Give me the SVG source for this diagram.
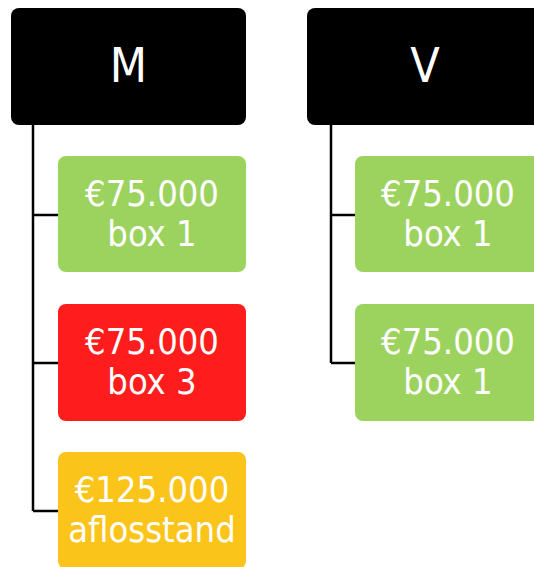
<svg xmlns="http://www.w3.org/2000/svg" width="534" height="567" viewBox="0 0 534 567">
<style>
.hdr{fill:#000}
.g{fill:#9CD35F}
.r{fill:#FE1C1C}
.y{fill:#FBC41B}
text{fill:#fff;font-family:"DejaVu Sans Condensed","DejaVu Sans",sans-serif;text-anchor:middle}
.t{font-size:36px}
.h{font-size:48px}
.c{fill:none;stroke:#000;stroke-width:2.5}
</style>
<rect width="534" height="567" fill="#fff"/>
<g id="connectors">
<path class="c" d="M33,125 V511 M33,215 H58 M33,363 H58 M33,511 H58"/>
<path class="c" d="M331,125 V363 M331,215 H355 M331,363 H355"/>
</g>
<g id="M"><rect class="hdr" x="11" y="8" width="235" height="117" rx="8"/><text class="h" x="128.5" y="82">M</text></g>
<g id="M1"><rect class="g" x="58" y="156" width="188" height="116" rx="8"/><text class="t" x="152" y="206">€75.000</text><text class="t" x="152" y="246">box 1</text></g>
<g id="M2"><rect class="r" x="58" y="304" width="188" height="117" rx="8"/><text class="t" x="152" y="354">€75.000</text><text class="t" x="152" y="394">box 3</text></g>
<g id="M3"><rect class="y" x="58" y="452" width="188" height="117" rx="8"/><text class="t" x="152" y="502">€125.000</text><text class="t" x="152" y="542">aflosstand</text></g>
<g id="V"><rect class="hdr" x="307" y="8" width="236" height="117" rx="8"/><text class="h" x="425" y="82">V</text></g>
<g id="V1"><rect class="g" x="355" y="156" width="188" height="116" rx="8"/><text class="t" x="448" y="206">€75.000</text><text class="t" x="448" y="246">box 1</text></g>
<g id="V2"><rect class="g" x="355" y="304" width="188" height="117" rx="8"/><text class="t" x="448" y="354">€75.000</text><text class="t" x="448" y="394">box 1</text></g>
</svg>
